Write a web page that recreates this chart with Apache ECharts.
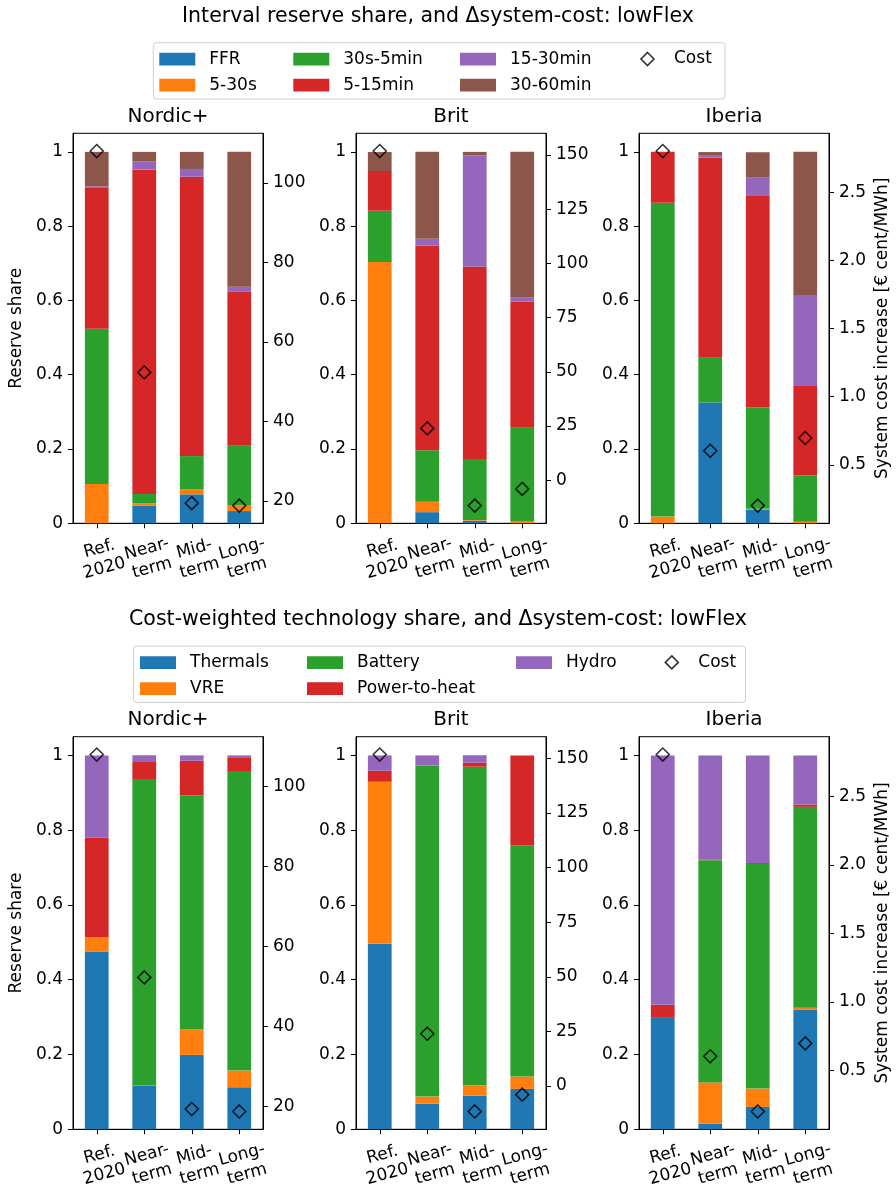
<!DOCTYPE html>
<html><head><meta charset="utf-8">
<script src="https://cdn.jsdelivr.net/npm/echarts@6/dist/echarts.min.js"></script>
<style>html,body{margin:0;padding:0;background:#fff}#c{width:896px;height:1189px}</style>
</head><body><div id="c"></div><script>
// ---------- DATA ----------
const categories = ['Ref.\n2020', 'Near-\nterm', 'Mid-\nterm', 'Long-\nterm'];
const regions = ['Nordic+', 'Brit', 'Iberia'];

// System cost increase (right axis), same in both figures
const costNordic = [108.0, 52.3, 19.4, 18.8];
const costBrit = [151.8, 23.9, -11.7, -4.0];
const costIberia = [2.806, 0.603, 0.200, 0.697];
const costTicksNordic = [20, 40, 60, 80, 100];
const costTicksBrit = [0, 25, 50, 75, 100, 125, 150];
const costTicksIberia = [0.5, 1.0, 1.5, 2.0, 2.5];
const shareTicks = [0, 0.2, 0.4, 0.6, 0.8, 1];

// Figure 1: interval reserve share
const ffrNordic      = [0.000, 0.048, 0.078, 0.033];
const s5_30Nordic    = [0.106, 0.006, 0.013, 0.015];
const s30_5mNordic   = [0.418, 0.025, 0.090, 0.161];
const m5_15Nordic    = [0.381, 0.873, 0.752, 0.414];
const m15_30Nordic   = [0.002, 0.022, 0.021, 0.014];
const m30_60Nordic   = [0.093, 0.026, 0.046, 0.363];

const ffrBrit        = [0.000, 0.030, 0.007, 0.000];
const s5_30Brit      = [0.7035, 0.028, 0.002, 0.005];
const s30_5mBrit     = [0.138, 0.139, 0.164, 0.252];
const m5_15Brit      = [0.107, 0.551, 0.518, 0.340];
const m15_30Brit     = [0.000, 0.018, 0.300, 0.012];
const m30_60Brit     = [0.051, 0.2345, 0.009, 0.391];

const ffrIberia      = [0.000, 0.325, 0.037, 0.000];
const s5_30Iberia    = [0.018, 0.000, 0.002, 0.0045];
const s30_5mIberia   = [0.845, 0.121, 0.273, 0.124];
const m5_15Iberia    = [0.1375, 0.539, 0.571, 0.243];
const m15_30Iberia   = [0.000, 0.0045, 0.049, 0.243];
const m30_60Iberia   = [0.000, 0.010, 0.067, 0.3855];

// Figure 2: cost-weighted technology share
const thermNordic    = [0.4746, 0.1169, 0.199, 0.1124];
const vreNordic      = [0.040, 0.001, 0.0687, 0.0446];
const battNordic     = [0.000, 0.819, 0.626, 0.801];
const p2hNordic      = [0.265, 0.0455, 0.092, 0.035];
const hydroNordic    = [0.2203, 0.018, 0.0143, 0.007];

const thermBrit      = [0.496, 0.0687, 0.090, 0.108];
const vreBrit        = [0.4335, 0.0187, 0.0277, 0.033];
const battBrit       = [0.000, 0.8858, 0.852, 0.619];
const p2hBrit        = [0.0294, 0.000, 0.0107, 0.240];
const hydroBrit      = [0.041, 0.0268, 0.020, 0.000];

const thermIberia    = [0.298, 0.0152, 0.0598, 0.3194];
const vreIberia      = [0.000, 0.1097, 0.049, 0.006];
const battIberia     = [0.000, 0.595, 0.601, 0.537];
const p2hIberia      = [0.035, 0.0018, 0.0027, 0.0063];
const hydroIberia    = [0.667, 0.278, 0.287, 0.131];

const intervalNames = ['FFR', '5-30s', '30s-5min', '5-15min', '15-30min', '30-60min'];
const techNames = ['Thermals', 'VRE', 'Battery', 'Power-to-heat', 'Hydro'];
const titleTop = 'Interval reserve share, and \u0394system-cost: lowFlex';
const titleBottom = 'Cost-weighted technology share, and \u0394system-cost: lowFlex';

// ---------- BUILD ----------
const intervalColors = ['#1f77b4', '#ff7f0e', '#2ca02c', '#d62728', '#9467bd', '#8c564b'];
const techColors = ['#1f77b4', '#ff7f0e', '#2ca02c', '#d62728', '#9467bd'];
const intervalTable = [
  [ffrNordic, s5_30Nordic, s30_5mNordic, m5_15Nordic, m15_30Nordic, m30_60Nordic],
  [ffrBrit, s5_30Brit, s30_5mBrit, m5_15Brit, m15_30Brit, m30_60Brit],
  [ffrIberia, s5_30Iberia, s30_5mIberia, m5_15Iberia, m15_30Iberia, m30_60Iberia]
];
const techTable = [
  [thermNordic, vreNordic, battNordic, p2hNordic, hydroNordic],
  [thermBrit, vreBrit, battBrit, p2hBrit, hydroBrit],
  [thermIberia, vreIberia, battIberia, p2hIberia, hydroIberia]
];
const costTable = [costNordic, costBrit, costIberia];
const costTickTable = [costTicksNordic, costTicksBrit, costTicksIberia];
const costFmt = [v => String(Math.round(v)), v => String(Math.round(v)), v => v.toFixed(1)];

const FONT = 'DejaVu Sans';
const gridLefts = [73, 356, 639];
const GW = 190;
const rowTops = [133.3, 736.7];
const rowHeights = [390, 392.6];

const grids = [], xAxes = [], yAxes = [], series = [];
for (let r = 0; r < 2; r++) {
  const names = r === 0 ? intervalNames : techNames;
  const colors = r === 0 ? intervalColors : techColors;
  const table = r === 0 ? intervalTable : techTable;
  for (let p = 0; p < 3; p++) {
    const gi = r * 3 + p;
    grids.push({left: gridLefts[p], top: rowTops[r], width: GW, height: rowHeights[r],
      show: true, borderColor: '#000', borderWidth: 1, backgroundColor: 'transparent',
      containLabel: false, outerBoundsMode: 'none'});
    xAxes.push({gridIndex: gi, type: 'category', data: categories,
      axisLine: {show: true, lineStyle: {color: '#000', width: 1}},
      axisTick: {show: true, alignWithLabel: true, length: 5, lineStyle: {color: '#000'}},
      axisLabel: {interval: 0, rotate: 15, align: 'center', verticalAlign: 'top', margin: 16,
        fontSize: 17, lineHeight: 20, color: '#000', fontFamily: FONT},
      splitLine: {show: false}});
    yAxes.push({gridIndex: gi, type: 'value', position: 'left', min: 0, max: 1.05,
      axisLine: {show: true, lineStyle: {color: '#000', width: 1}},
      axisTick: {show: true, length: 5, customValues: shareTicks, lineStyle: {color: '#000'}},
      axisLabel: {customValues: shareTicks, formatter: v => String(+v.toFixed(1)), fontSize: 17,
        color: '#000', margin: 10, fontFamily: FONT},
      splitLine: {show: false},
      name: p === 0 ? 'Reserve share' : '', nameLocation: 'middle', nameGap: 48, nameRotate: 90,
      nameTextStyle: {fontSize: 17, color: '#000', fontFamily: FONT}});
    const c = costTable[p];
    const cmin = Math.min(...c), cmax = Math.max(...c), pad = (cmax - cmin) * 0.05;
    yAxes.push({gridIndex: gi, type: 'value', position: 'right', min: cmin - pad, max: cmax + pad,
      axisLine: {show: true, lineStyle: {color: '#000', width: 1}},
      axisTick: {show: true, length: 5, customValues: costTickTable[p], lineStyle: {color: '#000'}},
      axisLabel: {customValues: costTickTable[p], formatter: costFmt[p], fontSize: 17,
        color: '#000', margin: 10, fontFamily: FONT},
      splitLine: {show: false},
      name: p === 2 ? 'System cost increase [\u20ac cent/MWh]' : '', nameLocation: 'middle',
      nameGap: 45, nameRotate: 90, nameTextStyle: {fontSize: 17, color: '#000', fontFamily: FONT}});
    names.forEach((nm, k) => {
      series.push({type: 'bar', name: nm, stack: 'g' + gi, xAxisIndex: gi, yAxisIndex: gi * 2,
        barWidth: '50%', data: table[p][k], itemStyle: {color: colors[k]},
        emphasis: {disabled: true}, animation: false});
    });
    series.push({type: 'scatter', name: 'Cost', xAxisIndex: gi, yAxisIndex: gi * 2 + 1,
      data: c, symbol: 'diamond', symbolSize: 13, z: 10,
      itemStyle: {color: 'rgba(0,0,0,0)', borderColor: '#000', borderWidth: 1.6},
      emphasis: {disabled: true}, animation: false});
  }
}

// legends: one component per entry, positioned like the matplotlib 4-column legend
const legends = [];
function legItem(name, left, top, isCost) {
  if (isCost) {
    legends.push({left: left, top: top, orient: 'horizontal', itemWidth: 13, itemHeight: 13,
      padding: 0, z: 5,
      data: [{name: name, icon: 'diamond',
        itemStyle: {color: 'rgba(0,0,0,0)', borderColor: '#000', borderWidth: 1.6}}],
      textStyle: {fontSize: 17, color: '#000', fontFamily: FONT, padding: [0, 0, 0, 15]},
      selectedMode: false});
  } else {
    legends.push({left: left, top: top, orient: 'horizontal', itemWidth: 36, itemHeight: 12.7,
      padding: 0, z: 5, icon: 'rect', data: [name],
      textStyle: {fontSize: 17, color: '#000', fontFamily: FONT, padding: [0, 0, 0, 9]},
      selectedMode: false});
  }
}
// top legend
const topCols = [159.3, 293.3, 460];
legItem('FFR', topCols[0], 50.7); legItem('5-30s', topCols[0], 76.7);
legItem('30s-5min', topCols[1], 50.7); legItem('5-15min', topCols[1], 76.7);
legItem('15-30min', topCols[2], 50.7); legItem('30-60min', topCols[2], 76.7);
legItem('Cost', 640.2, 50.5, true);
// bottom legend
const off = 603.4;
const botCols = [140, 307, 516];
legItem('Thermals', botCols[0], 50.7 + off); legItem('VRE', botCols[0], 76.7 + off);
legItem('Battery', botCols[1], 50.7 + off); legItem('Power-to-heat', botCols[1], 76.7 + off);
legItem('Hydro', botCols[2], 50.7 + off);
legItem('Cost', 671 - 6.5, 50.5 + off, true);

const graphic = [
  {type: 'rect', z: 0, shape: {x: 153.3, y: 42.7, width: 571.7, height: 56.3, r: 3},
    style: {fill: '#fff', stroke: '#d0d0d0', lineWidth: 1}},
  {type: 'rect', z: 0, shape: {x: 133.5, y: 42.7 + off, width: 612, height: 56.3, r: 3},
    style: {fill: '#fff', stroke: '#d0d0d0', lineWidth: 1}},
  {type: 'text', x: 438, y: 16.2, style: {text: titleTop, font: '20.5px "DejaVu Sans"', fill: '#000',
    textAlign: 'center', textVerticalAlign: 'middle'}},
  {type: 'text', x: 438, y: 16.2 + off, style: {text: titleBottom, font: '20.5px "DejaVu Sans"', fill: '#000',
    textAlign: 'center', textVerticalAlign: 'middle'}}
];
for (let r = 0; r < 2; r++) {
  for (let p = 0; p < 3; p++) {
    graphic.push({type: 'text', x: gridLefts[p] + GW / 2, y: 116.4 + r * off,
      style: {text: regions[p], font: '20px "DejaVu Sans"', fill: '#000',
        textAlign: 'center', textVerticalAlign: 'middle'}});
  }
}

const chart = echarts.init(document.getElementById('c'), null, {renderer: 'canvas', width: 896, height: 1189});
chart.setOption({
  animation: false,
  backgroundColor: '#fff',
  textStyle: {fontFamily: FONT},
  grid: grids, xAxis: xAxes, yAxis: yAxes, series: series,
  legend: legends, graphic: graphic
});
</script></body></html>
